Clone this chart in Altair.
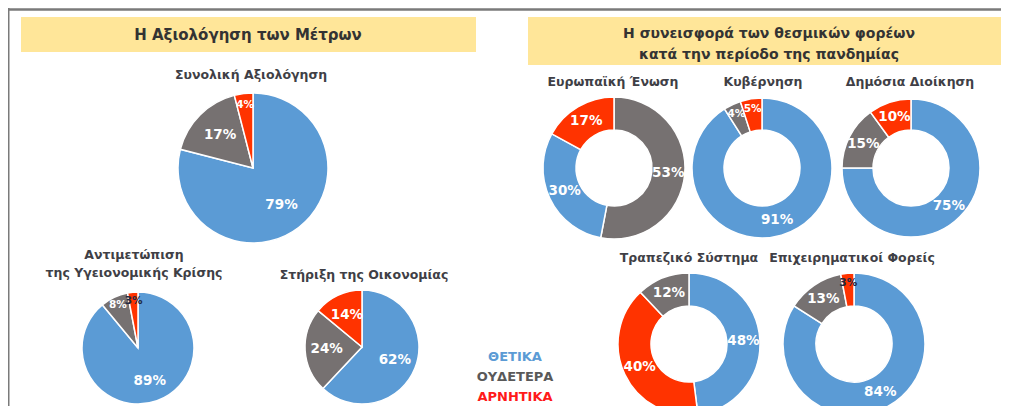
import altair as alt
import pandas as pd

# ---------------- data ----------------
CATEGORIES = ["ΘΕΤΙΚΑ", "ΟΥΔΕΤΕΡΑ", "ΑΡΝΗΤΙΚΑ"]
COLORS = ["#5B9BD5", "#767171", "#FF3300"]
LEGEND_COLORS = ["#5B9BD5", "#595959", "#FF1A1A"]

LEFT_HEADER = "Η Αξιολόγηση των Μέτρων"
RIGHT_HEADER = "Η συνεισφορά των θεσμικών φορέων\nκατά την περίοδο της πανδημίας"

# categories listed in clockwise order (from 12 o'clock) for each chart
total_title = "Συνολική Αξιολόγηση"
total_cats = ["ΘΕΤΙΚΑ", "ΟΥΔΕΤΕΡΑ", "ΑΡΝΗΤΙΚΑ"]
total_vals = [79, 17, 4]

health_title = "Αντιμετώπιση\nτης Υγειονομικής Κρίσης"
health_cats = ["ΘΕΤΙΚΑ", "ΟΥΔΕΤΕΡΑ", "ΑΡΝΗΤΙΚΑ"]
health_vals = [89, 8, 3]

economy_title = "Στήριξη της Οικονομίας"
economy_cats = ["ΘΕΤΙΚΑ", "ΟΥΔΕΤΕΡΑ", "ΑΡΝΗΤΙΚΑ"]
economy_vals = [62, 24, 14]

eu_title = "Ευρωπαϊκή Ένωση"
eu_cats = ["ΟΥΔΕΤΕΡΑ", "ΘΕΤΙΚΑ", "ΑΡΝΗΤΙΚΑ"]
eu_vals = [53, 30, 17]

gov_title = "Κυβέρνηση"
gov_cats = ["ΘΕΤΙΚΑ", "ΟΥΔΕΤΕΡΑ", "ΑΡΝΗΤΙΚΑ"]
gov_vals = [91, 4, 5]

admin_title = "Δημόσια Διοίκηση"
admin_cats = ["ΘΕΤΙΚΑ", "ΟΥΔΕΤΕΡΑ", "ΑΡΝΗΤΙΚΑ"]
admin_vals = [75, 15, 10]

bank_title = "Τραπεζικό Σύστημα"
bank_cats = ["ΘΕΤΙΚΑ", "ΑΡΝΗΤΙΚΑ", "ΟΥΔΕΤΕΡΑ"]
bank_vals = [48, 40, 12]

business_title = "Επιχειρηματικοί Φορείς"
business_cats = ["ΘΕΤΙΚΑ", "ΟΥΔΕΤΕΡΑ", "ΑΡΝΗΤΙΚΑ"]
business_vals = [84, 13, 3]

# ---------------- layout (pixels, chart space) ----------------
FONT = "DejaVu Sans"
TITLE_COLOR = "#3F3F46"
BANNER = "#FFE699"
W, H = 993, 398

# (title, cats, vals, cx, cy, r, inner, title_x, title_y)
charts = [
    (total_title, total_cats, total_vals, 245, 160, 75, 0, 243, 67),
    (health_title, health_cats, health_vals, 130, 340, 56, 0, 126, 247),
    (economy_title, economy_cats, economy_vals, 354, 339, 57, 0, 356, 267),
    (eu_title, eu_cats, eu_vals, 606, 160, 71, 38, 605, 74),
    (gov_title, gov_cats, gov_vals, 754, 160, 70, 38, 755, 74),
    (admin_title, admin_cats, admin_vals, 903, 160, 69, 38, 902, 74),
    (bank_title, bank_cats, bank_vals, 681, 336, 71, 38, 681, 250),
    (business_title, business_cats, business_vals, 846, 336, 71, 38, 844, 250),
]

color_scale = alt.Scale(domain=CATEGORIES, range=COLORS)
layers = []

# frame lines
frame = pd.DataFrame({"k": [0]})
layers.append(alt.Chart(frame).mark_rule(color="#7A7A7A", strokeWidth=2.5).encode(
    x=alt.value(0), x2=alt.value(W), y=alt.value(1.5)))
layers.append(alt.Chart(frame).mark_rule(color="#7A7A7A", strokeWidth=2).encode(
    x=alt.value(0.5), y=alt.value(0), y2=alt.value(H)))

# banners
layers.append(alt.Chart(frame).mark_rect(color=BANNER).encode(
    x=alt.value(13), x2=alt.value(468), y=alt.value(9), y2=alt.value(44)))
layers.append(alt.Chart(frame).mark_rect(color=BANNER).encode(
    x=alt.value(520), x2=alt.value(W), y=alt.value(9), y2=alt.value(57)))
layers.append(alt.Chart(pd.DataFrame({"t": [LEFT_HEADER]})).mark_text(
    font=FONT, fontSize=15, fontWeight="bold", color="#333333", baseline="middle", align="center"
).encode(text="t:N", x=alt.value(240), y=alt.value(27)))
layers.append(alt.Chart(pd.DataFrame({"t": [RIGHT_HEADER]})).mark_text(
    font=FONT, fontSize=14, fontWeight="bold", color="#333333", baseline="middle", align="center",
    lineBreak="\n", lineHeight=21
).encode(text="t:N", x=alt.value(761), y=alt.value(26)))

for i, (title, cats, vals, cx, cy, r, inner, tx, ty) in enumerate(charts):
    df = pd.DataFrame({"cat": cats, "value": vals, "idx": list(range(len(cats)))})
    base = alt.Chart(df).transform_calculate(label="datum.value + '%'")
    arc = base.mark_arc(radius=r, innerRadius=inner, stroke="white", strokeWidth=1.5).encode(
        theta=alt.Theta("value:Q", stack=True),
        color=alt.Color("cat:N", scale=color_scale, legend=None),
        order=alt.Order("idx:Q"),
        x=alt.value(cx), y=alt.value(cy),
    )
    layers.append(arc)
    if inner > 0:
        groups = [(r * 0.86, "datum.value < 10", 10.5), ((r + inner) / 2, "datum.value >= 10", 13.5)]
    else:
        groups = [(r * 0.84, "datum.value < 10", 10.5), (r * 0.62, "datum.value >= 10", 13.5)]
    for rad, pred, fs in groups:
        txt = base.mark_text(font=FONT, fontWeight="bold", baseline="middle", fontSize=fs,
                             align="center", radius=rad).encode(
            theta=alt.Theta("value:Q", stack=True),
            order=alt.Order("idx:Q"),
            text=alt.condition(pred, alt.Text("label:N"), alt.value("")),
            color=alt.condition("datum.value <= 3", alt.value("#1F2A44"), alt.value("white")),
            x=alt.value(cx), y=alt.value(cy),
        )
        layers.append(txt)
    ttl = alt.Chart(pd.DataFrame({"t": [title]})).mark_text(
        font=FONT, fontSize=12.5, fontWeight="bold", color=TITLE_COLOR, baseline="middle",
        align="center", lineBreak="\n", lineHeight=18
    ).encode(text="t:N", x=alt.value(tx), y=alt.value(ty))
    layers.append(ttl)

# legend as coloured words
for j, (cat, col) in enumerate(zip(CATEGORIES, LEGEND_COLORS)):
    layers.append(alt.Chart(pd.DataFrame({"t": [cat]})).mark_text(
        font=FONT, fontSize=13, fontWeight="bold", color=col, baseline="middle", align="center"
    ).encode(text="t:N", x=alt.value(507), y=alt.value(349 + 20 * j)))

chart = alt.layer(*layers).properties(
    width=W, height=H, autosize=alt.AutoSizeParams(type="none"), padding=0, background="white"
).configure_view(stroke=None)

chart.save("out.html", embed_options={"renderer": "svg", "actions": False})
